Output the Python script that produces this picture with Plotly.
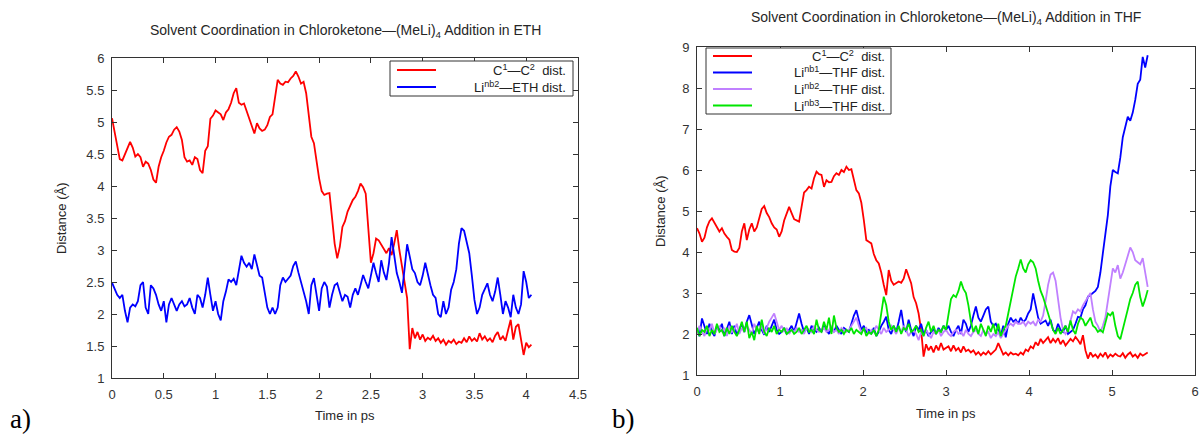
import numpy as np
import plotly.graph_objects as go

# ---------------- data: panel a (ETH), sampled every 0.025 ps ----------------
dt_a = 0.025
eth_c1c2 = [
    5.06, 4.85, 4.6, 4.42, 4.4, 4.5, 4.62, 4.69, 4.6, 4.46,
    4.5, 4.45, 4.3, 4.38, 4.35, 4.25, 4.1, 4.05, 4.3, 4.45,
    4.55, 4.68, 4.77, 4.8, 4.88, 4.92, 4.85, 4.72, 4.45, 4.38,
    4.4, 4.33, 4.45, 4.42, 4.25, 4.2, 4.55, 4.62, 5.05, 5.1,
    5.18, 5.15, 5.12, 5.03, 5.15, 5.2, 5.3, 5.45, 5.53, 5.3,
    5.27, 5.29, 5.18, 5.05, 4.95, 4.82, 4.98, 4.9, 4.86, 4.88,
    4.95, 5.08, 5.12, 5.4, 5.66, 5.6, 5.58, 5.63, 5.62, 5.68,
    5.72, 5.79, 5.71, 5.6, 5.63, 5.45, 5.1, 4.77, 4.67, 4.35,
    4.12, 3.92, 3.86, 3.88, 3.89, 3.5, 3.1, 2.87, 3.05, 3.36,
    3.45, 3.6, 3.68, 3.78, 3.83, 3.92, 4.04, 3.98, 3.88, 3.36,
    2.8, 2.95, 3.18, 3.15, 3.08, 3.0, 2.95, 3.03, 2.92, 3.1,
    3.31, 3.0, 2.75, 2.55, 2.25, 1.45, 1.78, 1.62, 1.72, 1.6,
    1.68, 1.58, 1.63, 1.6, 1.66, 1.58, 1.62, 1.55, 1.6, 1.52,
    1.58, 1.55, 1.6, 1.53, 1.57, 1.55, 1.62, 1.56, 1.65, 1.58,
    1.62, 1.57, 1.7, 1.6, 1.65, 1.58, 1.62, 1.56, 1.66, 1.72,
    1.6, 1.65, 1.58, 1.75, 1.91, 1.6, 1.8, 1.84, 1.62, 1.36,
    1.55, 1.48, 1.52,
]
eth_li2 = [
    2.49, 2.4, 2.3, 2.25, 2.3, 2.05, 1.87, 2.1, 2.15, 2.12,
    2.2, 2.45, 2.5, 2.1, 2.0, 2.45, 2.4, 2.3, 2.15, 2.05,
    2.2, 1.87, 2.15, 2.25, 2.15, 2.05, 2.15, 2.2, 2.12, 2.15,
    2.25, 2.1, 2.0, 2.3, 2.25, 2.1, 2.3, 2.57, 2.3, 2.05,
    2.2, 2.0, 1.9, 2.2, 2.35, 2.54, 2.5, 2.55, 2.45, 2.7,
    2.91, 2.8, 2.74, 2.8, 2.7, 2.93, 2.75, 2.6, 2.57, 2.33,
    2.1, 2.0, 2.1, 2.0, 2.1, 2.45, 2.57, 2.5, 2.55, 2.6,
    2.75, 2.82, 2.65, 2.5, 2.33, 2.2, 2.0, 2.45, 2.56, 2.3,
    2.05, 2.4, 2.5, 2.43, 2.1, 2.3, 2.45, 2.48, 2.35, 2.2,
    2.3, 2.27, 2.1, 2.3, 2.4, 2.3, 2.45, 2.61, 2.5, 2.4,
    2.6, 2.8, 2.64, 2.5, 2.84, 2.65, 2.53, 2.8, 3.2, 2.9,
    2.64, 2.5, 2.33, 2.7, 3.09, 2.9, 2.7, 2.64, 2.5, 2.45,
    2.6, 2.8, 2.6, 2.45, 2.3, 2.25, 2.0, 1.95, 2.2, 2.0,
    2.1, 2.38, 2.5, 2.7, 3.1, 3.34, 3.3, 3.1, 2.95, 2.6,
    2.22, 2.0, 2.1, 2.3, 2.4, 2.48, 2.3, 2.2, 2.35, 2.57,
    2.3, 2.0, 2.2, 2.1, 1.95, 2.3, 2.1, 2.0, 2.15, 2.67,
    2.5, 2.25, 2.3,
]

# ---------------- data: panel b (THF), sampled every 0.03 ps ----------------
dt_b = 0.03
thf_c1c2 = [
    4.58, 4.45, 4.25, 4.35, 4.6, 4.75, 4.82, 4.7, 4.6, 4.5,
    4.58, 4.45, 4.37, 4.3, 4.05, 4.01, 4.0, 4.1, 4.5, 4.7,
    4.29, 4.55, 4.7, 4.5, 4.6, 4.85, 5.05, 5.12, 4.95, 4.85,
    4.7, 4.6, 4.55, 4.37, 4.5, 4.77, 4.95, 5.1, 4.95, 4.8,
    4.77, 4.74, 5.1, 5.45, 5.51, 5.59, 5.55, 5.8, 5.96, 5.9,
    5.88, 5.59, 5.75, 5.7, 5.71, 5.85, 5.92, 5.88, 6.0, 5.95,
    6.08, 6.0, 6.02, 5.75, 5.51, 5.43, 5.2, 4.78, 4.29, 4.25,
    4.21, 3.95, 3.8, 3.72, 3.5, 3.2, 2.95, 3.56, 3.3, 3.2,
    3.25, 3.28, 3.25, 3.35, 3.58, 3.4, 3.24, 2.9, 2.75, 2.5,
    2.1, 1.45, 1.75, 1.6, 1.7, 1.55, 1.72, 1.6, 1.78, 1.62,
    1.65, 1.7, 1.58, 1.72, 1.6, 1.66, 1.55, 1.7, 1.58, 1.62,
    1.55, 1.6, 1.5, 1.56, 1.48, 1.55, 1.5, 1.58, 1.5, 1.55,
    1.62, 1.78, 1.65, 1.5, 1.55, 1.48, 1.55, 1.5, 1.52, 1.48,
    1.55, 1.5, 1.62, 1.58, 1.7, 1.65, 1.8, 1.72, 1.88, 1.78,
    1.85, 1.92, 1.78, 1.88, 1.8, 1.9, 1.75, 1.85, 1.72, 1.8,
    1.88, 1.82, 1.93, 1.85, 1.75, 1.97, 1.6, 1.4, 1.55, 1.45,
    1.5, 1.42, 1.52, 1.45, 1.55, 1.42, 1.5, 1.45, 1.52, 1.47,
    1.45, 1.53, 1.42, 1.5, 1.55, 1.45, 1.5, 1.42, 1.52, 1.47,
    1.5, 1.55,
]
thf_li1 = [
    2.1, 1.95, 2.38, 2.2, 2.0, 2.25, 2.05, 1.95, 2.2, 2.1,
    2.25, 1.95, 2.15, 2.3, 2.0, 2.2, 1.97, 2.1, 2.25, 2.05,
    2.3, 2.46, 2.2, 2.0, 2.15, 2.3, 2.1, 1.98, 2.2, 2.05,
    2.2, 2.35, 2.1, 2.0, 2.05, 2.15, 2.0, 2.1, 2.2, 2.05,
    2.3, 2.5, 2.25, 2.05, 2.15, 2.0, 2.2, 2.1, 2.05, 2.15,
    2.05, 2.2, 2.1, 2.0, 2.15, 2.05, 2.2, 2.1, 2.0, 2.15,
    2.1, 2.05, 2.25, 2.45, 2.58, 2.3, 2.1, 2.2, 2.05, 2.1,
    2.0, 2.15, 1.95, 2.05, 2.2, 2.3, 2.42, 2.1, 2.0, 2.2,
    2.05, 2.3, 2.59, 2.2, 2.05, 2.35, 2.1, 1.95, 2.2, 2.1,
    2.25, 2.0, 2.1, 1.95, 2.05, 2.1, 2.0, 2.15, 2.05, 2.2,
    2.1, 2.2, 2.05, 1.95, 2.1, 2.2, 2.0, 2.35, 2.25, 2.05,
    2.2, 2.45, 2.67, 2.4, 2.3, 2.45, 2.6, 2.67, 2.3, 2.2,
    2.25, 2.1, 1.96, 2.2, 1.92, 2.25, 2.4, 2.3, 2.35, 2.25,
    2.4, 2.3, 2.35, 2.5, 2.6, 2.99, 2.7, 2.4, 2.25, 2.3,
    2.33, 2.2, 2.35, 2.1, 2.05, 2.25, 2.1, 2.05, 2.2, 2.0,
    2.05, 2.1, 2.25, 2.42, 2.4, 2.6, 2.7, 2.91, 2.95, 3.0,
    3.05, 3.15, 3.5, 3.97, 4.4, 4.9, 5.6, 6.0, 5.95, 5.92,
    6.3, 6.8, 7.05, 7.3, 7.2, 7.4, 7.71, 8.1, 8.2, 8.76,
    8.5, 8.8,
]
thf_li2 = [
    2.0, 2.2, 2.05, 1.95, 2.15, 2.1, 2.25, 2.0, 2.1, 2.2,
    2.05, 2.15, 1.95, 2.2, 2.05, 2.1, 2.25, 2.0, 2.15, 2.05,
    2.2, 2.1, 2.0, 2.25, 2.1, 2.05, 2.2, 2.0, 2.15, 2.3,
    2.4, 2.5, 2.3, 2.1, 2.2, 2.05, 2.15, 2.0, 2.1, 2.05,
    2.15, 2.05, 2.1, 2.0, 2.15, 2.1, 2.05, 2.2, 2.1, 2.05,
    2.1, 2.15, 2.05, 2.1, 2.2, 2.05, 2.1, 2.0, 2.15, 2.1,
    2.05, 2.1, 2.2, 2.3, 2.4, 2.2, 2.05, 2.1, 2.15, 2.0,
    2.1, 2.05, 2.2, 2.1, 2.0, 2.15, 2.05, 2.1, 2.2, 2.1,
    2.0, 2.15, 2.05, 2.2, 2.1, 1.95, 2.05, 2.1, 2.0, 1.85,
    2.05, 1.95, 2.1, 2.0, 1.9, 2.05, 2.0, 2.1, 1.95, 2.05,
    2.1, 2.0, 1.95, 2.05, 2.1, 2.0, 2.05, 1.95, 2.1, 2.0,
    1.95, 2.05, 2.1, 2.0, 1.95, 2.1, 2.0, 2.05, 1.9, 2.0,
    1.95, 2.05, 1.9, 2.0, 2.1, 2.2, 2.25, 2.2, 2.3, 2.25,
    2.25, 2.3, 2.2, 2.3, 2.25, 2.3, 2.2, 2.35, 2.3, 2.45,
    2.8, 3.2, 3.45, 3.5, 3.3, 2.8, 2.4, 2.1, 2.0, 2.1,
    2.3, 2.55, 2.5, 2.6, 2.55, 2.7, 2.8, 2.9, 3.0, 2.6,
    2.3, 2.2, 2.05, 2.2, 2.4, 2.8, 3.2, 3.6, 3.5, 3.68,
    3.35, 3.5, 3.7, 3.9, 4.11, 4.0, 3.8, 3.75, 3.7, 3.85,
    3.5, 3.15,
]
thf_li3 = [
    2.15, 1.95, 2.1, 2.05, 2.2, 1.95, 2.1, 2.0, 2.25, 2.05,
    2.1, 1.95, 2.15, 2.0, 2.2, 2.05, 1.95, 2.1, 2.3, 2.05,
    2.3, 1.9, 2.05, 1.85, 2.2, 2.0, 2.35, 2.05, 1.95, 2.15,
    2.05, 2.2, 2.0, 2.1, 2.05, 2.15, 2.0, 2.05, 2.1, 2.0,
    2.05, 2.15, 2.0, 2.1, 2.2, 2.05, 2.1, 2.0, 2.35, 2.1,
    2.05, 2.3, 2.1, 2.4, 2.0, 2.45, 2.15, 2.05, 2.1, 2.0,
    2.1, 2.05, 2.15, 2.0, 2.1, 2.05, 2.0, 2.15, 1.95, 2.05,
    2.0, 2.1, 1.95, 2.1, 2.5, 2.91, 2.7, 2.3, 2.1, 2.2,
    2.05, 2.2, 2.0, 2.15, 2.1, 2.25, 2.05, 2.1, 2.2, 2.05,
    2.1, 1.95, 2.15, 2.3, 2.05, 2.2, 2.0, 2.1, 2.05, 2.2,
    2.1, 2.5, 2.85, 2.95, 2.9, 3.05, 3.28, 3.1, 3.0, 2.7,
    2.3, 2.05, 2.2, 2.0, 2.25, 2.1, 1.95, 2.2, 2.05, 2.25,
    2.0, 2.25, 1.95, 2.1, 2.2, 2.5, 2.8, 3.1, 3.4, 3.6,
    3.82, 3.6, 3.5, 3.7, 3.8, 3.75, 3.6, 3.3, 3.05, 2.9,
    2.7, 2.45, 2.3, 2.1, 2.0, 2.15, 2.0, 2.1, 2.2, 2.05,
    2.33, 2.1, 2.0, 2.25, 2.4, 2.35, 2.2, 2.3, 2.4, 2.2,
    2.15, 2.05, 2.1, 2.04, 2.3, 2.5, 2.45, 2.54, 2.2, 1.95,
    1.87, 2.1, 2.3, 2.6, 2.85, 3.0, 3.2, 3.28, 2.9, 2.67,
    2.85, 3.07,
]

label_c1c2 = "C<sup>1</sup>—C<sup>2</sup>\u00a0 dist."
labels_eth = [label_c1c2, "Li<sup>nb2</sup>—ETH dist."]
labels_thf = [label_c1c2, "Li<sup>nb1</sup>—THF dist.",
              "Li<sup>nb2</sup>—THF dist.", "Li<sup>nb3</sup>—THF dist."]
title_a = "Solvent Coordination in Chloroketone—(MeLi)<sub>4</sub> Addition in ETH"
title_b = "Solvent Coordination in Chloroketone—(MeLi)<sub>4</sub> Addition in THF"
xlabel = "Time in ps"
ylabel = "Distance (Å)"

# ---------------- figure ----------------
W, H = 1199, 435
RED, BLUE, PURPLE, GREEN = "#ff0000", "#0000ff", "#c080ff", "#00e600"
FONT = "Liberation Sans, Arial, sans-serif"
TXT = "#262626"

def tgrid(vals, dt):
    return np.round(np.arange(len(vals)) * dt, 4)

fig = go.Figure()
lw = 1.8
eth_series = [eth_c1c2, eth_li2]
eth_colors = [RED, BLUE]
for vals, col, lab in zip(eth_series, eth_colors, labels_eth):
    fig.add_trace(go.Scatter(x=tgrid(vals, dt_a), y=vals, mode="lines",
                             line=dict(color=col, width=lw), name=lab,
                             xaxis="x", yaxis="y", showlegend=False))

thf_series = [thf_c1c2, thf_li1, thf_li2, thf_li3]
thf_colors = [RED, BLUE, PURPLE, GREEN]
for vals, col, lab in zip(thf_series, thf_colors, labels_thf):
    fig.add_trace(go.Scatter(x=tgrid(vals, dt_b), y=vals, mode="lines",
                             line=dict(color=col, width=lw), name=lab,
                             xaxis="x2", yaxis="y2", showlegend=False))

# plot-area positions (px)
ax_a = dict(l=112, r=578, t=58, b=378)
ax_b = dict(l=697, r=1195, t=47, b=375)

def dom(a):
    return [a["l"] / W, a["r"] / W], [1 - a["b"] / H, 1 - a["t"] / H]

xa, ya = dom(ax_a)
xb, yb = dom(ax_b)

axis_common = dict(showline=True, linecolor="#333333", linewidth=1, mirror="ticks",
                   ticks="inside", ticklen=5, tickcolor="#333333", showgrid=False,
                   zeroline=False, tickfont=dict(size=13, color="#333333", family=FONT),
                   ticklabelstandoff=4, ticklabeloverflow="allow", automargin=False)

fig.update_layout(
    template="none",
    width=W, height=H, margin=dict(l=0, r=0, t=0, b=0, pad=0, autoexpand=False),
    paper_bgcolor="white", plot_bgcolor="white",
    font=dict(family=FONT, color="#333333"),
    xaxis=dict(domain=xa, range=[0, 4.5], tick0=0, dtick=0.5, anchor="y", **axis_common),
    yaxis=dict(domain=ya, range=[1, 6], tick0=1, dtick=0.5, anchor="x", **axis_common),
    xaxis2=dict(domain=xb, range=[0, 6], tick0=0, dtick=1, anchor="y2", **axis_common),
    yaxis2=dict(domain=yb, range=[1, 9], tick0=1, dtick=1, anchor="x2", **axis_common),
    showlegend=False,
)

shapes = []
ann = []

# legend boxes (px): box, row centres, sample line x-range, text right edge
def add_legend(box, rows, sx, tx, colors, labels):
    x0, y0, x1, y1 = box
    shapes.append(dict(type="rect", xref="paper", yref="paper", layer="above",
                       x0=x0 / W, x1=x1 / W, y0=1 - y1 / H, y1=1 - y0 / H,
                       fillcolor="white", line=dict(color="#333333", width=1)))
    for ry, col, lab in zip(rows, colors, labels):
        shapes.append(dict(type="line", xref="paper", yref="paper", layer="above",
                           x0=sx[0] / W, x1=sx[1] / W, y0=1 - ry / H, y1=1 - ry / H,
                           line=dict(color=col, width=2)))
        ann.append(dict(text=lab, x=tx / W, y=1 - ry / H, xref="paper", yref="paper",
                        showarrow=False, xanchor="right", yanchor="middle",
                        font=dict(size=13, family=FONT, color="#222222")))

add_legend((390, 61, 573, 96), [70, 87], (397, 436), 568, eth_colors, labels_eth)
add_legend((706, 48, 891, 114), [56, 72.5, 89, 105.5], (713, 752), 887,
           thf_colors, labels_thf)

# titles
ann.append(dict(text=title_a, x=(ax_a["l"] + ax_a["r"]) / 2 / W, y=1 - 31 / H,
                xref="paper", yref="paper", showarrow=False, xanchor="center", yanchor="middle",
                font=dict(size=14, family=FONT, color=TXT)))
ann.append(dict(text=title_b, x=(ax_b["l"] + ax_b["r"]) / 2 / W, y=1 - 18 / H,
                xref="paper", yref="paper", showarrow=False, xanchor="center", yanchor="middle",
                font=dict(size=14, family=FONT, color=TXT)))
# axis titles
for a, yx, ytxt in [(ax_a, 415, 62), (ax_b, 413, 660)]:
    ann.append(dict(text=xlabel, x=(a["l"] + a["r"]) / 2 / W, y=1 - yx / H,
                    xref="paper", yref="paper", showarrow=False, xanchor="center",
                    yanchor="middle", font=dict(size=13, family=FONT, color=TXT)))
    ann.append(dict(text=ylabel, x=ytxt / W, y=1 - (a["t"] + a["b"]) / 2 / H,
                    xref="paper", yref="paper", showarrow=False, xanchor="center",
                    yanchor="middle", textangle=-90,
                    font=dict(size=13, family=FONT, color=TXT)))
# panel letters
serif = "Liberation Serif, Times New Roman, serif"
ann.append(dict(text="a)", x=8 / W, y=1 - 419 / H, xref="paper", yref="paper",
                showarrow=False, xanchor="left", yanchor="middle",
                font=dict(size=27, family=serif, color="black")))
ann.append(dict(text="b)", x=610 / W, y=1 - 419 / H, xref="paper", yref="paper",
                showarrow=False, xanchor="left", yanchor="middle",
                font=dict(size=27, family=serif, color="black")))

fig.update_layout(annotations=ann, shapes=shapes)

fig.write_html("out.html", config={"displayModeBar": False},
               post_script="document.body.style.margin='0px';document.body.style.overflow='hidden';")
